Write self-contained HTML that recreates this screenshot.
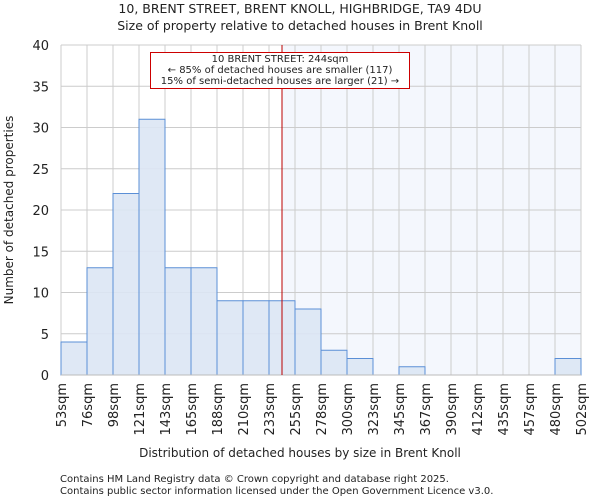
<!DOCTYPE html>
<html><head><meta charset="utf-8"><style>
body{margin:0;background:#fff;font-family:"DejaVu Sans","Liberation Sans",sans-serif}
svg text{font-family:"DejaVu Sans","Liberation Sans",sans-serif;fill:#222}
</style></head><body>
<svg id="chart" width="600" height="500">
<text x="300" y="13" font-size="12.5" text-anchor="middle">10, BRENT STREET, BRENT KNOLL, HIGHBRIDGE, TA9 4DU</text>
<text x="300" y="30" font-size="12.5" text-anchor="middle">Size of property relative to detached houses in Brent Knoll</text>
<g id="plot"></g>
<text x="300" y="457" font-size="12" text-anchor="middle">Distribution of detached houses by size in Brent Knoll</text>
<text transform="translate(13,210) rotate(-90)" font-size="12" text-anchor="middle">Number of detached properties</text>
<text x="60" y="482" font-size="10" fill="#444">Contains HM Land Registry data © Crown copyright and database right 2025.</text>
<text x="60" y="494" font-size="10" fill="#444">Contains public sector information licensed under the Open Government Licence v3.0.</text>
</svg>
<script>
const binLabels=["53sqm","76sqm","98sqm","121sqm","143sqm","165sqm","188sqm","210sqm","233sqm","255sqm","278sqm","300sqm","323sqm","345sqm","367sqm","390sqm","412sqm","435sqm","457sqm","480sqm","502sqm"];
const counts=[4,13,22,31,13,13,9,9,9,8,3,2,0,1,0,0,0,0,0,2];
const yTicks=[0,5,10,15,20,25,30,35,40];
const propertyBinPos=8.5;
const NS="http://www.w3.org/2000/svg";
const L=61,R=581,T=45,B=375,yMax=40;
const n=counts.length;
const xs=i=>L+(R-L)*i/n;
const ys=v=>B-(B-T)*v/yMax;
const g=document.getElementById('plot');
function mk(t,a){const e=document.createElementNS(NS,t);for(const k in a)e.setAttribute(k,a[k]);g.appendChild(e);return e;}
const px=xs(propertyBinPos);
let e=mk('rect',{x:px,y:T,width:R-px,height:B-T,fill:'#f4f7fd'});


for(let i=0;i<=n;i++){e=mk('line',{x1:xs(i),x2:xs(i),y1:T,y2:B,stroke:'#ccc','stroke-width':1});

}
yTicks.forEach(v=>{e=mk('line',{x1:L,x2:R,y1:ys(v),y2:ys(v),stroke:'#ccc','stroke-width':1});


e=mk('text',{x:L-12,y:ys(v)+5,'font-size':13,'text-anchor':'end'});e.textContent=v;

});
counts.forEach((c,i)=>{if(c<=0)return;e=mk('rect',{x:xs(i),y:ys(c),width:xs(i+1)-xs(i),height:B-ys(c),fill:'#dce6f4','fill-opacity':0.9,stroke:'#5b8fd6','stroke-width':1});

});
binLabels.forEach((t,i)=>{e=mk('text',{transform:`translate(${xs(i)+5},383) rotate(-90)`,'font-size':13,'text-anchor':'end'});e.textContent=t;

});
e=mk('line',{x1:L,x2:R,y1:B,y2:B,stroke:'#bbb'});


e=mk('line',{x1:px,x2:px,y1:T,y2:B,stroke:'#b00','stroke-width':1});


e=mk('rect',{x:150.5,y:52.5,width:259,height:36,fill:'#fff',stroke:'#c00','stroke-width':1});


["10 BRENT STREET: 244sqm","← 85% of detached houses are smaller (117)","15% of semi-detached houses are larger (21) →"].forEach((t,k)=>{
e=mk('text',{x:280,y:62+k*11,'font-size':10,'text-anchor':'middle'});e.textContent=t;

});
</script>
</body></html>
